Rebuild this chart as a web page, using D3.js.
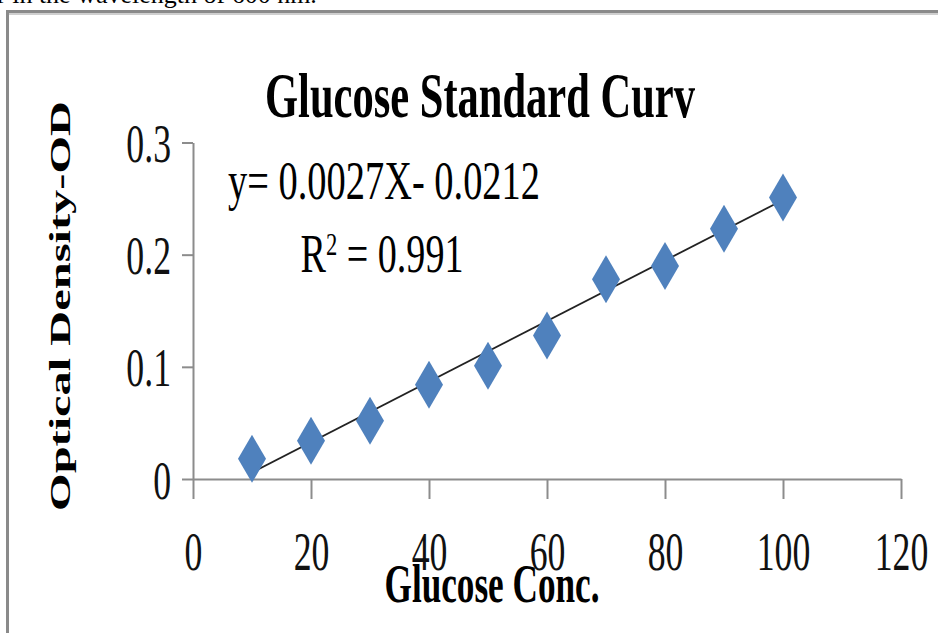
<!DOCTYPE html>
<html>
<head>
<meta charset="utf-8">
<script src="https://cdn.jsdelivr.net/npm/d3@7"></script>
<style>
  html, body { margin: 0; padding: 0; background: #fff; }
  svg { display: block; font-family: "Liberation Serif", "Times New Roman", serif; }
</style>
</head>
<body>
<svg id="chart" width="938" height="633"></svg>
<script>
// data
const concentration = [10, 20, 30, 40, 50, 60, 70, 80, 90, 100];
const opticalDensity = [0.018, 0.034, 0.052, 0.084, 0.101, 0.128, 0.178, 0.19, 0.223, 0.251];
const xTicks = [0, 20, 40, 60, 80, 100, 120];
const yTicks = [0, 0.1, 0.2, 0.3];
const slope = 0.0027;
const intercept = -0.0212;
const rSquared = 0.991;

const svg = d3.select("#chart");
const axisColor = "#8c8c8c";
const markerColor = "#4f81bd";

// scales
const x = d3.scaleLinear().domain([0, 120]).range([193, 901]);
const y = d3.scaleLinear().domain([0, 0.3]).range([479, 142.5]);

// squeeze a text horizontally so it fills a given width
function fit(sel, cx, cy, width) {
  const w = sel.node().getBBox().width;
  sel.attr("transform", `translate(${cx},${cy}) scale(${width / w},1)`);
}

// cut off caption line at the top + frame
const caption = svg.append("text")
  .style("font-size", "26px")
  .text("r in the wavelength of 600 nm.");
caption.attr("transform", "translate(-3,3) scale(1,1)");

svg.append("line")
  .attr("x1", 6).attr("x2", 938).attr("y1", 11.5).attr("y2", 11.5)
  .attr("stroke", "#8a8a8a").attr("stroke-width", 3);
svg.append("line")
  .attr("x1", 8).attr("x2", 938).attr("y1", 14).attr("y2", 14)
  .attr("stroke", "#cfcfcf").attr("stroke-width", 2);
svg.append("line")
  .attr("x1", 7.5).attr("x2", 7.5).attr("y1", 10).attr("y2", 633)
  .attr("stroke", "#8a8a8a").attr("stroke-width", 3);

// axes
const xAxis = svg.append("g")
  .attr("transform", `translate(0,${y(0)})`)
  .call(d3.axisBottom(x).tickValues(xTicks).tickSizeInner(20).tickSizeOuter(0).tickFormat(d3.format("d")));
const yAxis = svg.append("g")
  .attr("transform", `translate(${x(0)},0)`)
  .call(d3.axisLeft(y).tickValues(yTicks).tickSizeInner(11).tickSizeOuter(0).tickFormat(d => d === 0 ? "0" : d3.format(".1f")(d)));

[xAxis, yAxis].forEach(g => {
  g.select(".domain").attr("stroke", axisColor).attr("stroke-width", 2);
  g.selectAll(".tick line").attr("stroke", axisColor).attr("stroke-width", 2);
  g.selectAll(".tick text")
    .attr("fill", "#111")
    .style("font-family", "Liberation Serif")
    .style("font-size", "55px");
});

xAxis.selectAll(".tick text")
  .attr("y", null).attr("dy", null)
  .attr("text-anchor", "middle")
  .attr("transform", "translate(0,91) scale(0.65,1)");
yAxis.selectAll(".tick text")
  .attr("x", null).attr("dy", null)
  .attr("text-anchor", "end")
  .attr("transform", "translate(-22,19) scale(0.65,1)");

// trend line
svg.append("line")
  .attr("x1", x(concentration[0]))
  .attr("y1", y(slope * concentration[0] + intercept))
  .attr("x2", x(concentration[concentration.length - 1]))
  .attr("y2", y(slope * concentration[concentration.length - 1] + intercept))
  .attr("stroke", "#222")
  .attr("stroke-width", 1.8);

// diamond markers
const points = concentration.map((c, i) => ({ c, od: opticalDensity[i] }));
svg.append("g")
  .selectAll("path")
  .data(points)
  .join("path")
  .attr("transform", d => `translate(${x(d.c)},${y(d.od)})`)
  .attr("d", "M0,-24L14,0L0,24L-14,0Z")
  .attr("fill", markerColor);

// title
const title = svg.append("text")
  .attr("text-anchor", "middle")
  .style("font-size", "64px")
  .style("font-weight", "bold")
  .text("Glucose Standard Curv");
fit(title, 480, 117, 430);

// equation + R²
const eq = svg.append("text")
  .attr("text-anchor", "middle")
  .style("font-size", "54px")
  .text(`y= ${slope}X- ${Math.abs(intercept)}`);
fit(eq, 384, 199, 312);

const r2 = svg.append("text")
  .attr("text-anchor", "middle")
  .style("font-size", "54px");
r2.append("tspan").text("R");
r2.append("tspan").attr("dy", -17).style("font-size", "32px").text("2");
r2.append("tspan").attr("dy", 17).text(` = ${rSquared}`);
fit(r2, 382, 272, 163);

// axis titles
const xTitle = svg.append("text")
  .attr("text-anchor", "middle")
  .style("font-size", "54px")
  .style("font-weight", "bold")
  .text("Glucose Conc.");
fit(xTitle, 492, 602, 215);

const yTitle = svg.append("text")
  .attr("text-anchor", "middle")
  .attr("transform", "translate(70,306) rotate(-90)")
  .style("font-size", "29px")
  .style("font-weight", "bold")
  .text("Optical Density-OD");
yTitle.attr("textLength", 410).attr("lengthAdjust", "spacingAndGlyphs");
</script>
</body>
</html>
